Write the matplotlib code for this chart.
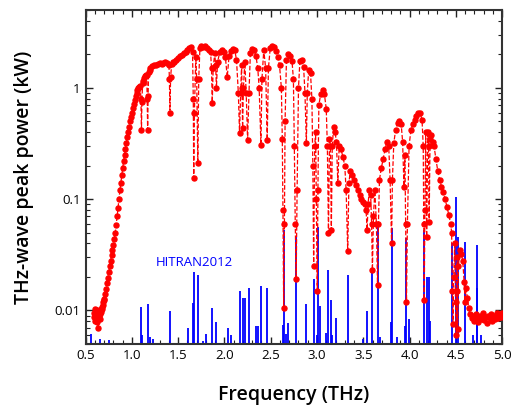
import numpy as np
import matplotlib
matplotlib.use("Agg")
import matplotlib.pyplot as plt
from matplotlib.ticker import MultipleLocator, LogLocator, NullFormatter

plt.rcParams['font.family'] = ['Open Sans', 'DejaVu Sans']

# measured THz-wave peak power (kW) vs frequency (THz)
freq = [
    0.590, 0.595, 0.600, 0.605, 0.610, 0.615, 0.620, 0.625, 0.630, 0.635,
    0.640, 0.645, 0.650, 0.655, 0.660, 0.665, 0.670, 0.675, 0.680, 0.685,
    0.690, 0.695, 0.700, 0.710, 0.720, 0.730, 0.740, 0.750, 0.760, 0.770,
    0.780, 0.790, 0.800, 0.810, 0.820, 0.830, 0.840, 0.850, 0.860, 0.870,
    0.880, 0.890, 0.900, 0.910, 0.920, 0.930, 0.940, 0.950, 0.960, 0.970,
    0.980, 0.990, 1.000, 1.010, 1.020, 1.030, 1.040, 1.050, 1.060, 1.070,
    1.080, 1.090, 1.097, 1.103, 1.108, 1.115, 1.120, 1.130, 1.140, 1.150,
    1.160, 1.165, 1.170, 1.175, 1.180, 1.190, 1.200, 1.220, 1.240, 1.260,
    1.280, 1.300, 1.320, 1.340, 1.360, 1.380, 1.400, 1.405, 1.411, 1.418,
    1.430, 1.440, 1.460, 1.480, 1.500, 1.520, 1.540, 1.560, 1.580, 1.600,
    1.620, 1.640, 1.655, 1.663, 1.668, 1.675, 1.690, 1.700, 1.712, 1.722,
    1.735, 1.750, 1.770, 1.790, 1.810, 1.830, 1.850, 1.860, 1.868, 1.878,
    1.895, 1.905, 1.913, 1.925, 1.950, 1.970, 1.990, 2.010, 2.030, 2.050,
    2.070, 2.090, 2.110, 2.130, 2.150, 2.163, 2.175, 2.185, 2.190, 2.196,
    2.205, 2.220, 2.235, 2.250, 2.265, 2.280, 2.300, 2.320, 2.340, 2.360,
    2.375, 2.394, 2.405, 2.425, 2.445, 2.462, 2.475, 2.495, 2.515, 2.535,
    2.555, 2.575, 2.595, 2.615, 2.625, 2.632, 2.640, 2.648, 2.655, 2.670,
    2.690, 2.710, 2.730, 2.745, 2.755, 2.765, 2.775, 2.785, 2.800, 2.815,
    2.835, 2.855, 2.870, 2.885, 2.895, 2.910, 2.930, 2.945, 2.955, 2.964,
    2.975, 2.985, 2.993, 3.003, 3.010, 3.020, 3.040, 3.060, 3.080, 3.100,
    3.112, 3.124, 3.135, 3.145, 3.155, 3.165, 3.180, 3.195, 3.210, 3.225,
    3.240, 3.260, 3.280, 3.300, 3.315, 3.332, 3.345, 3.360, 3.380, 3.400,
    3.420, 3.440, 3.460, 3.480, 3.500, 3.520, 3.530, 3.542, 3.552, 3.565,
    3.580, 3.590, 3.599, 3.610, 3.625, 3.642, 3.654, 3.664, 3.675, 3.695,
    3.715, 3.735, 3.755, 3.775, 3.790, 3.806, 3.815, 3.830, 3.850, 3.870,
    3.890, 3.910, 3.925, 3.940, 3.950, 3.958, 3.967, 3.977, 3.995, 4.015,
    4.035, 4.055, 4.075, 4.095, 4.115, 4.135, 4.148, 4.154, 4.159, 4.166,
    4.175, 4.185, 4.198, 4.205, 4.212, 4.222, 4.235, 4.250, 4.265, 4.285,
    4.305, 4.325, 4.345, 4.365, 4.385, 4.405, 4.425, 4.445, 4.455, 4.463,
    4.470, 4.477, 4.488, 4.497, 4.505, 4.512, 4.517, 4.520, 4.528, 4.545,
    4.560, 4.575, 4.590, 4.600, 4.610, 4.625, 4.640, 4.655, 4.670, 4.685,
    4.700, 4.715, 4.730, 4.745, 4.760, 4.775, 4.790, 4.805, 4.820, 4.835,
    4.850, 4.865, 4.880, 4.895, 4.910, 4.925, 4.940, 4.955, 4.970, 4.985,
    5.000,
]
power = [
    0.0095, 0.0088, 0.0102, 0.0080, 0.0096, 0.0086, 0.0100, 0.0078, 0.0092, 0.0070,
    0.0088, 0.0097, 0.0084, 0.0099, 0.0092, 0.0104, 0.0097, 0.0108, 0.0102, 0.0112,
    0.0118, 0.0124, 0.0128, 0.0140, 0.0155, 0.0175, 0.0195, 0.0220, 0.0250, 0.0280,
    0.0315, 0.0350, 0.0390, 0.0440, 0.0500, 0.0590, 0.0700, 0.0840, 0.100, 0.120,
    0.140, 0.165, 0.190, 0.220, 0.250, 0.285, 0.320, 0.360, 0.400, 0.450,
    0.500, 0.550, 0.600, 0.660, 0.720, 0.780, 0.840, 0.900, 0.950, 0.990,
    1.02, 1.05, 0.80, 0.42, 0.75, 1.10, 1.15, 1.22, 1.28, 1.32,
    1.30, 0.80, 0.42, 0.85, 1.38, 1.45, 1.50, 1.56, 1.60, 1.62,
    1.64, 1.66, 1.65, 1.67, 1.70, 1.68, 1.62, 1.20, 0.60, 1.25,
    1.65, 1.70, 1.72, 1.78, 1.85, 1.92, 1.98, 2.05, 2.12, 2.20,
    2.30, 2.35, 2.10, 0.80, 0.155, 0.60, 1.90, 1.20, 0.21, 1.20,
    2.30, 2.38, 2.32, 2.36, 2.30, 2.20, 2.10, 1.50, 0.74, 1.50,
    2.05, 1.60, 1.00, 1.70, 2.12, 2.18, 2.10, 1.90, 1.25, 1.95,
    2.15, 2.25, 2.20, 1.80, 0.90, 0.39, 0.90, 1.60, 1.00, 0.44,
    1.00, 1.70, 0.90, 0.34, 0.90, 2.05, 2.25, 2.20, 1.95, 1.50,
    1.00, 0.31, 1.20, 2.20, 1.50, 0.34, 1.50, 2.30, 2.38, 2.32,
    2.15, 1.90, 1.60, 1.00, 0.35, 0.08, 0.0105, 0.06, 0.50, 1.80,
    2.00, 1.95, 1.75, 1.20, 0.30, 0.06, 0.019, 0.12, 1.00, 1.75,
    1.80, 1.55, 0.90, 0.32, 0.90, 1.45, 1.35, 0.80, 0.20, 0.025,
    0.30, 0.40, 0.10, 0.015, 0.12, 0.70, 0.88, 0.95, 0.88, 0.65,
    0.30, 0.050, 0.35, 0.30, 0.053, 0.30, 0.45, 0.40, 0.33, 0.14,
    0.30, 0.28, 0.24, 0.20, 0.12, 0.034, 0.14, 0.18, 0.165, 0.150,
    0.135, 0.120, 0.110, 0.100, 0.095, 0.090, 0.080, 0.053, 0.090, 0.120,
    0.110, 0.060, 0.023, 0.070, 0.120, 0.060, 0.017, 0.060, 0.150, 0.190,
    0.230, 0.280, 0.330, 0.300, 0.150, 0.040, 0.150, 0.320, 0.420, 0.480,
    0.500, 0.470, 0.330, 0.130, 0.250, 0.060, 0.012, 0.060, 0.300, 0.420,
    0.470, 0.520, 0.560, 0.590, 0.590, 0.520, 0.300, 0.060, 0.0125, 0.080,
    0.400, 0.046, 0.400, 0.300, 0.062, 0.350, 0.380, 0.330, 0.300, 0.230,
    0.180, 0.150, 0.130, 0.115, 0.100, 0.085, 0.072, 0.060, 0.050, 0.015,
    0.0075, 0.020, 0.040, 0.012, 0.006, 0.015, 0.030, 0.0068, 0.025, 0.035,
    0.032, 0.028, 0.018, 0.012, 0.016, 0.013, 0.0105, 0.0092, 0.0085, 0.0090,
    0.0080, 0.0092, 0.0086, 0.0078, 0.0090, 0.0084, 0.0094, 0.0082, 0.0088, 0.0077,
    0.0090, 0.0085, 0.0093, 0.0081, 0.0089, 0.0084, 0.0095, 0.0086, 0.0092, 0.0088,
    0.0094,
]

# HITRAN2012 water absorption lines (position, drawn height)
hitran_f = [
    0.557, 0.660, 0.752, 1.103, 1.113, 1.170, 1.198, 1.229, 1.411, 1.603,
    1.661, 1.669, 1.717, 1.764, 1.797, 1.867, 1.912, 2.041, 2.075, 2.164,
    2.196, 2.221, 2.265, 2.341, 2.365, 2.394, 2.463, 2.630, 2.640, 2.661,
    2.688, 2.775, 2.885, 2.964, 2.995, 3.013, 3.037, 3.100, 3.124, 3.146,
    3.165, 3.203, 3.332, 3.498, 3.542, 3.599, 3.654, 3.678, 3.795, 3.806,
    3.865, 3.953, 3.967, 3.997, 4.159, 4.185, 4.212, 4.226, 4.463, 4.505,
    4.520, 4.600, 4.688, 4.728, 4.734, 4.775, 4.995,
]
hitran_p = [
    0.0062, 0.0055, 0.0054, 0.0108, 0.0060, 0.0114, 0.0058, 0.0055, 0.0099, 0.0069,
    0.0117, 0.0220, 0.0210, 0.0053, 0.0061, 0.0105, 0.0078, 0.0070, 0.0060, 0.0150,
    0.0130, 0.0130, 0.0160, 0.0072, 0.0072, 0.0165, 0.0160, 0.0074, 0.0530, 0.0062,
    0.0077, 0.0460, 0.0114, 0.0190, 0.0060, 0.0560, 0.0110, 0.0063, 0.0230, 0.0125,
    0.0060, 0.0085, 0.0210, 0.0055, 0.0098, 0.0220, 0.0610, 0.0058, 0.0078, 0.0550,
    0.0058, 0.0072, 0.0450, 0.0083, 0.0530, 0.0200, 0.0200, 0.0080, 0.0400, 0.1050,
    0.0460, 0.0410, 0.0060, 0.0160, 0.0390, 0.0060, 0.0130,
]

fig = plt.figure(figsize=(5.16, 4.08), dpi=100)
ax = fig.add_axes([0.166, 0.157, 0.807, 0.818])

ax.vlines(hitran_f, 0.005, hitran_p, color='#0000ff', lw=1.3, zorder=2)
ax.plot(freq, power, ls='--', lw=0.9, color='#ff0000', marker='o', ms=3.6,
        mec='#ff0000', mfc='#ff0000', zorder=3)

ax.text(1.255, 0.0268, 'HITRAN2012', color='#0000ff', fontsize=9.5, va='center', ha='left')

ax.set_yscale('log')
ax.set_xlim(0.5, 5.0)
ax.set_ylim(0.005, 5)

ax.xaxis.set_major_locator(MultipleLocator(0.5))
ax.xaxis.set_minor_locator(MultipleLocator(0.1))
ax.xaxis.set_major_formatter(plt.FuncFormatter(lambda v, p: '%.1f' % v))
ax.set_yticks([0.01, 0.1, 1])
ax.set_yticklabels(['0.01', '0.1', '1'])
ax.yaxis.set_minor_locator(LogLocator(base=10, subs=np.arange(2, 10)))
ax.yaxis.set_minor_formatter(NullFormatter())

ax.tick_params(which='both', direction='in', top=True, right=True, labelsize=9.5, color='#222222')
ax.tick_params(which='major', length=5, width=1)
ax.tick_params(which='minor', length=3, width=0.8)
for s in ax.spines.values():
    s.set_linewidth(1.5)
    s.set_color('#333333')

ax.set_xlabel('Frequency (THz)', fontsize=14, fontweight='semibold', labelpad=17)
ax.set_ylabel('THz-wave peak power (kW)', fontsize=14, fontweight='semibold', labelpad=15)

fig.savefig('out.png', dpi=100)
